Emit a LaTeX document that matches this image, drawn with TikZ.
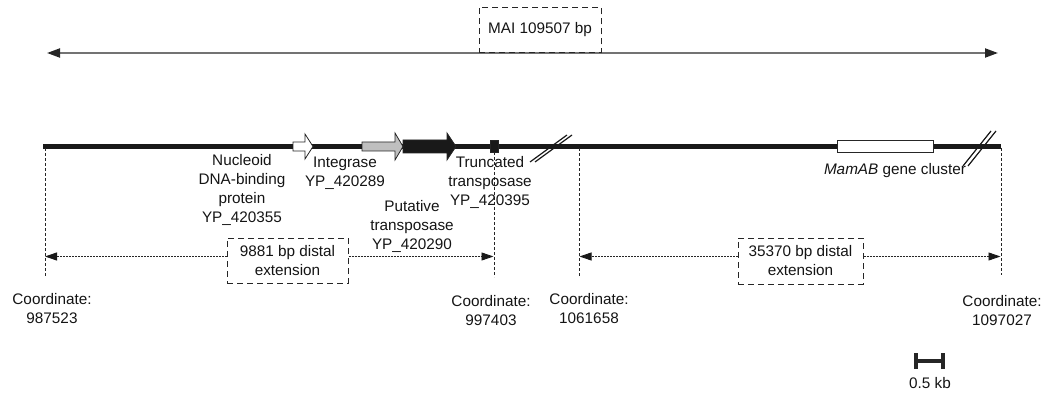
\documentclass[tikz,border=0pt]{standalone}
\usepackage{fontspec}
\setmainfont{Liberation Sans}
\usetikzlibrary{arrows.meta}
\begin{document}
\begin{tikzpicture}[x=1pt,y=-1pt,
  lbl/.style={font=\fontsize{15.3}{19}\selectfont, align=center, inner sep=0pt, text=black!92},
  dbox/.style={draw=black!85, dash pattern=on 6pt off 4pt, line width=1pt,
    minimum width=122pt, minimum height=45pt, inner sep=0pt,
    font=\fontsize{15.3}{19}\selectfont, align=center, text=black!92},
  toparrow/.style={draw=black!55, line width=2pt,
    {Triangle[length=13pt,width=9pt,color=black!85]}-{Triangle[length=13pt,width=9pt,color=black!85]}},
  extarrow/.style={draw=black!85, line width=0.9pt, dash pattern=on 2pt off 1pt,
    -{Triangle[length=12pt,width=8pt,color=black!90]}},
  vdash/.style={draw=black!85, line width=0.8pt, dash pattern=on 3pt off 2pt},
  genome/.style={draw=black!90, line width=4.5pt},
  brk/.style={draw=black!90, line width=1.2pt},
  gene/.style={draw=black!85, line width=0.8pt},
  sbar/.style={draw=black!85, line width=3.5pt}]
\useasboundingbox (0,0) rectangle (1045,393);

% top arrow
\coordinate (tl) at (47,53);
\coordinate (tr) at (998,53);
\draw[toparrow] (tl) -- (tr);
\node[dbox] (mai) at (540,30) {MAI 109507 bp};

% genome line
\coordinate (g0) at (43,146.5);
\coordinate (g1) at (1001,146.5);
\draw[genome] (g0) -- (g1);

% genes
\filldraw[gene, fill=white] (293,142) -- (305,142) -- (305,134) -- (313,146.5) -- (305,159) -- (305,151) -- (293,151) -- cycle;
\filldraw[gene, fill=black!25] (362,142) -- (395,142) -- (395,133) -- (403,146.5) -- (395,160) -- (395,151) -- (362,151) -- cycle;
\filldraw[gene, fill=black!90] (403,140) -- (447,140) -- (447,133) -- (456,146.5) -- (447,160) -- (447,153) -- (403,153) -- cycle;
\filldraw[gene, fill=black!90] (490,140) rectangle (498,152);
\filldraw[draw=black!85, line width=0.8pt, fill=white] (837,140) rectangle (933,152);

% break marks
\draw[brk] (530,162) -- (567,135);
\draw[brk] (535,162) -- (572,135);
\draw[brk] (963,166) -- (991,131);
\draw[brk] (968,166) -- (996,131);

% vertical dashed lines
\coordinate (v1t) at (45,148); \coordinate (v1b) at (45,276);
\coordinate (v2t) at (494,152); \coordinate (v2b) at (494,277);
\coordinate (v3t) at (579,148); \coordinate (v3b) at (579,277);
\coordinate (v4t) at (1001,148); \coordinate (v4b) at (1001,275);
\draw[vdash] (v1t) -- (v1b);
\draw[vdash] (v2t) -- (v2b);
\draw[vdash] (v3t) -- (v3b);
\draw[vdash] (v4t) -- (v4b);

% extension boxes and arrows
\node[dbox, minimum width=121pt] (e1) at (287.5,260.5) {9881 bp distal\\extension};
\node[dbox, minimum width=125pt, minimum height=46pt] (e2) at (800.5,261) {35370 bp distal\\extension};
\coordinate (a1) at (45,256.5);
\coordinate (a2) at (493.5,256.5);
\coordinate (a3) at (579.5,256.5);
\coordinate (a4) at (1000.5,256.5);
\draw[extarrow] (e1.west |- a1) -- (a1);
\draw[extarrow] (e1.east |- a2) -- (a2);
\draw[extarrow] (e2.west |- a3) -- (a3);
\draw[extarrow] (e2.east |- a4) -- (a4);

% labels
\node[lbl] (nuc) at (242,190) {Nucleoid\\DNA-binding\\protein\\YP\_420355};
\node[lbl] (int) at (345,173) {Integrase\\YP\_420289};
\node[lbl] (put) at (412,226.5) {Putative\\transposase\\YP\_420290};
\node[lbl] (tru) at (490,182.5) {Truncated\\transposase\\YP\_420395};
\node[lbl] (mam) at (895,171) {\textit{MamAB} gene cluster};

\node[lbl] (c1) at (52,308.5) {Coordinate:\\987523};
\node[lbl] (c2) at (491,311) {Coordinate:\\997403};
\node[lbl] (c3) at (589,308.5) {Coordinate:\\1061658};
\node[lbl] (c4) at (1002,311) {Coordinate:\\1097027};

% scale bar
\coordinate (s0) at (916,361);
\coordinate (s1) at (943,361);
\draw[sbar] (s0) -- (s1);
\draw[sbar] ([yshift=-8pt]s0) -- ([yshift=8pt]s0);
\draw[sbar] ([yshift=-8pt]s1) -- ([yshift=8pt]s1);
\node[lbl] (sc) at (930,383) {0.5 kb};
\end{tikzpicture}
\end{document}
